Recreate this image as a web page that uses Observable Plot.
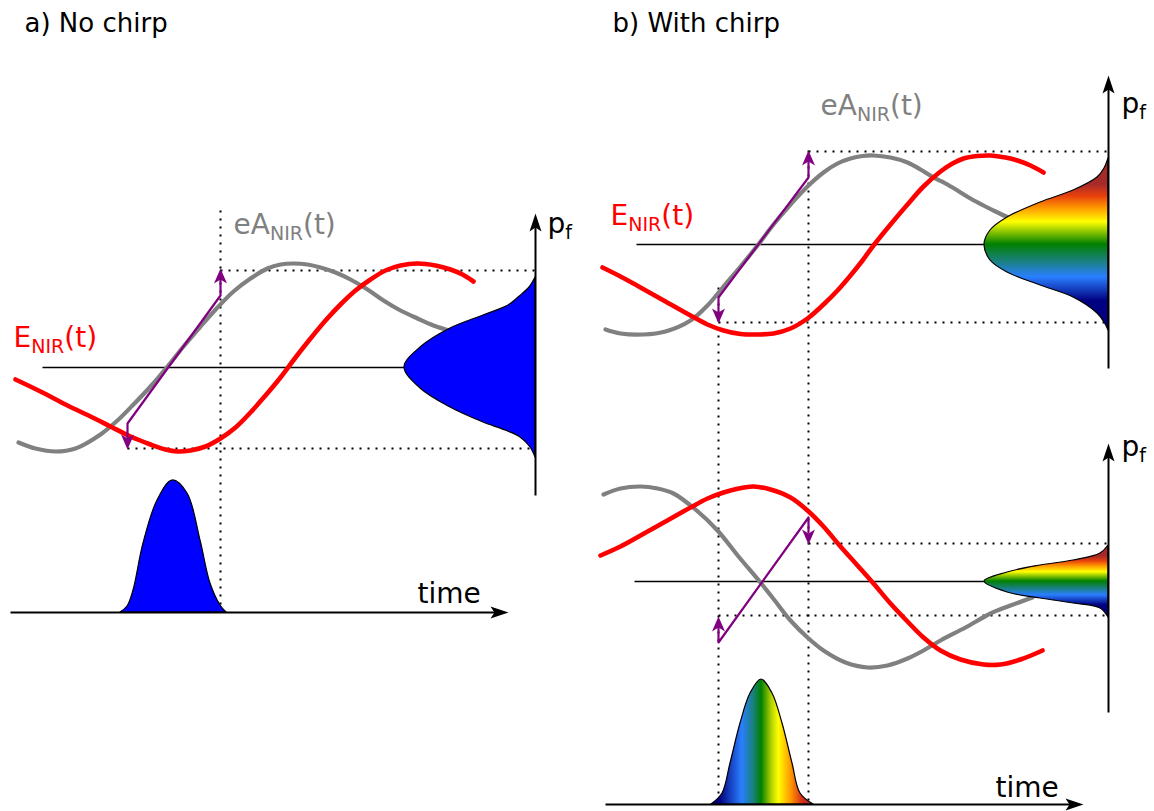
<!DOCTYPE html>
<html>
<head>
<meta charset="utf-8">
<script src="https://cdn.jsdelivr.net/npm/d3@7"></script>
<script src="https://cdn.jsdelivr.net/npm/@observablehq/plot@0.6"></script>
<style>
  body { margin: 0; background: #fff; }
  svg { display: block; }
</style>
</head>
<body>
<div id="chart"></div>
<script>
// ---------------- data (canvas pixel units, y downward) ----------------
// Panel a) No chirp
const aGrayX = [18, 35, 55, 75, 100, 117, 133, 150, 167, 183, 200, 217, 233, 250, 267, 280, 293, 307, 320, 335, 350, 367, 383, 400, 417, 433, 452];
const aGrayY = [442, 448, 451, 448, 434, 420, 404, 386, 366, 346, 326, 307, 291, 278, 268, 264, 263, 264, 267, 272, 279, 289, 300, 310, 318, 325, 331];
const aRedX  = [15, 40, 67, 90, 110, 130, 150, 165, 177, 190, 205, 220, 235, 250, 265, 280, 295, 310, 325, 340, 355, 370, 385, 400, 417, 435, 450, 462, 473];
const aRedY  = [379, 391, 405, 416, 426, 436, 444, 449, 451, 450, 446, 438, 427, 412, 395, 377, 357, 338, 320, 304, 290, 279, 270, 265, 263, 265, 269, 274, 281];
const aSpecY = [277, 287, 297, 305, 315, 328, 347, 367, 388, 407, 422, 430, 437, 447, 457];
const aSpecX = [535, 529, 518, 508, 483, 450, 420, 404, 420, 450, 483, 505, 520, 530, 535];
const aPulseX = [120, 127, 133, 143, 157, 172, 187, 200, 210, 220, 226];
const aPulseY = [612, 606, 590, 543, 500, 480, 493, 540, 583, 605, 612];
const aPurple = [[127, 438], [127, 423], [220, 295], [220, 279]];

// Panel b) With chirp, upper
const btGrayX = [605, 620, 643, 665, 690, 707, 723, 740, 757, 773, 790, 807, 823, 837, 850, 862, 873, 890, 907, 920, 933, 945, 957, 970, 983, 995, 1010];
const btGrayY = [329, 333, 334, 331, 320, 305, 286, 266, 245, 224, 204, 186, 172, 163, 158, 155.5, 155, 157, 162, 169, 177, 183, 190, 198, 205, 211, 218];
const btRedX  = [602, 620, 640, 665, 690, 707, 723, 740, 757, 773, 790, 807, 823, 837, 850, 862, 873, 890, 907, 923, 940, 952, 963, 977, 990, 1005, 1017, 1030, 1043];
const btRedY  = [267, 276, 287, 301, 315, 324, 330, 333.5, 334, 333, 328, 318, 304, 290, 275, 260, 245, 224, 204, 186, 171, 163, 158, 155.5, 155, 157, 160, 165, 172];
const btSpecY = [158, 168, 177, 190, 202, 217, 230, 244, 260, 272, 285, 297, 313, 322, 330];
const btSpecX = [1108, 1104, 1097, 1073, 1040, 1007, 990, 984, 990, 1007, 1040, 1073, 1097, 1104, 1108];
const btPurple = [[718, 312], [718, 297], [808, 177], [808, 161]];

// Panel b) With chirp, lower
const bbGrayX = [603, 620, 640, 657, 673, 695, 717, 738, 760, 775, 790, 807, 823, 845, 867, 887, 907, 923, 940, 965, 990, 1010, 1032];
const bbGrayY = [494, 488, 486, 488, 493, 509, 530, 556, 582, 601, 620, 637, 650, 662, 667, 665, 658, 650, 640, 627, 613, 605, 597];
const bbRedX  = [600, 620, 640, 665, 690, 707, 723, 738, 753, 770, 790, 807, 823, 840, 857, 873, 890, 907, 923, 940, 960, 983, 1000, 1020, 1042];
const bbRedY  = [555, 546, 535, 521, 507, 498, 492, 488, 486, 489, 497, 510, 526, 546, 565, 583, 603, 621, 637, 650, 659, 664, 664, 659, 650];
const bbSpecY = [545, 553, 560, 565, 572, 581, 592, 598, 603, 608, 617];
const bbSpecX = [1108, 1100, 1073, 1040, 1007, 984, 1007, 1040, 1073, 1100, 1108];
const bbPurple = [[718, 627], [718, 642], [808, 517], [808, 532]];
const bPulseX = [711, 722, 730, 740, 750, 761, 772, 782, 792, 800, 813];
const bPulseY = [804, 793, 763, 723, 693, 679, 693, 723, 763, 793, 804];

// guide lines
const centerLines = [
  {x1: 42, y1: 367, x2: 535, y2: 367},
  {x1: 636, y1: 244, x2: 1108, y2: 244},
  {x1: 634, y1: 581, x2: 1108, y2: 581}
];
const dottedLines = [
  {x1: 220, y1: 210, x2: 220, y2: 612},
  {x1: 220, y1: 270, x2: 535, y2: 270},
  {x1: 127, y1: 448, x2: 535, y2: 448},
  {x1: 718, y1: 287, x2: 718, y2: 800},
  {x1: 808, y1: 150, x2: 808, y2: 800},
  {x1: 808, y1: 151, x2: 1108, y2: 151},
  {x1: 718, y1: 322, x2: 1108, y2: 322},
  {x1: 808, y1: 543, x2: 1108, y2: 543},
  {x1: 718, y1: 615, x2: 1108, y2: 615}
];
const axisLines = [
  {x1: 535, y1: 495, x2: 535, y2: 226},
  {x1: 10, y1: 612, x2: 495, y2: 612},
  {x1: 1108, y1: 368, x2: 1108, y2: 88},
  {x1: 1108, y1: 712, x2: 1108, y2: 456},
  {x1: 605, y1: 804, x2: 1070, y2: 804}
];
const axisHeads = [
  {x: 535, y: 213, rot: 0}, {x: 508, y: 612, rot: 90},
  {x: 1108, y: 75, rot: 0}, {x: 1108, y: 443, rot: 0}, {x: 1083, y: 804, rot: 90}
];
const purpleHeads = [
  {x: 220, y: 268, rot: 0}, {x: 127, y: 449, rot: 180},
  {x: 808, y: 150, rot: 0}, {x: 718, y: 323, rot: 180},
  {x: 808, y: 544, rot: 180}, {x: 718, y: 616, rot: 0}
];
const labels = [
  {x: 24, y: 31, t: "a) No chirp", color: "black", size: 26},
  {x: 612, y: 31, t: "b) With chirp", color: "black", size: 26},
  {x: 13, y: 346, t: "E|NIR|(t)", color: "red", size: 28},
  {x: 233, y: 233, t: "eA|NIR|(t)", color: "#808080", size: 28},
  {x: 547, y: 232, t: "p|f|", color: "black", size: 28},
  {x: 417, y: 602, t: "time", color: "black", size: 28},
  {x: 610, y: 224, t: "E|NIR|(t)", color: "red", size: 28},
  {x: 820, y: 114, t: "eA|NIR|(t)", color: "#808080", size: 28},
  {x: 1121, y: 112, t: "p|f|", color: "black", size: 28},
  {x: 1121, y: 455, t: "p|f|", color: "black", size: 28},
  {x: 995, y: 796, t: "time", color: "black", size: 28}
];

// ---------------- helpers ----------------
const pts = (xs, ys, id) => xs.map((x, i) => ({x, y: ys[i], id}));
const poly = (arr, id) => arr.map(([x, y]) => ({x, y, id}));
const grayData = [...pts(aGrayX, aGrayY, "a"), ...pts(btGrayX, btGrayY, "bt"), ...pts(bbGrayX, bbGrayY, "bb")];
const redData = [...pts(aRedX, aRedY, "a"), ...pts(btRedX, btRedY, "bt"), ...pts(bbRedX, bbRedY, "bb")];
const purpleData = [...poly(aPurple, "a"), ...poly(btPurple, "bt"), ...poly(bbPurple, "bb")];
const specA = aSpecY.map((y, i) => ({y, x: aSpecX[i], base: 535}));
const specBt = btSpecY.map((y, i) => ({y, x: btSpecX[i], base: 1108}));
const specBb = bbSpecY.map((y, i) => ({y, x: bbSpecX[i], base: 1108}));
const pulseA = aPulseX.map((x, i) => ({x, y: aPulseY[i], base: 612}));
const pulseB = bPulseX.map((x, i) => ({x, y: bPulseY[i], base: 804}));

const axisHead = {draw(ctx) { ctx.moveTo(0, 0); ctx.lineTo(-6, 18); ctx.lineTo(0, 14); ctx.lineTo(6, 18); ctx.closePath(); }};
const purpleHead = {draw(ctx) { ctx.moveTo(0, 0); ctx.lineTo(-6.5, 15); ctx.lineTo(0, 11); ctx.lineTo(6.5, 15); ctx.closePath(); }};

const chart = Plot.plot({
  width: 1154,
  height: 811,
  margin: 0,
  x: {domain: [0, 1154], axis: null},
  y: {domain: [811, 0], axis: null},
  color: {type: "identity"},
  style: {fontFamily: "DejaVu Sans", background: "white"},
  marks: [
    Plot.link(dottedLines, {x1: "x1", y1: "y1", x2: "x2", y2: "y2", stroke: "black", strokeWidth: 2, strokeDasharray: "2,6"}),
    Plot.link(centerLines, {x1: "x1", y1: "y1", x2: "x2", y2: "y2", stroke: "black", strokeWidth: 1.3}),
    Plot.line(grayData, {x: "x", y: "y", z: "id", stroke: "#808080", strokeWidth: 4.2, curve: "catmull-rom", strokeLinecap: "round"}),
    Plot.line(redData, {x: "x", y: "y", z: "id", stroke: "red", strokeWidth: 4.6, curve: "catmull-rom", strokeLinecap: "round"}),
    Plot.areaX(specA, {y: "y", x1: "base", x2: "x", fill: "#0000ff", stroke: "black", strokeWidth: 1.2, curve: "catmull-rom"}),
    Plot.areaX(specBt, {y: "y", x1: "base", x2: "x", fill: "url(#specV)", stroke: "black", strokeWidth: 1.2, curve: "catmull-rom"}),
    Plot.areaX(specBb, {y: "y", x1: "base", x2: "x", fill: "url(#specV)", stroke: "black", strokeWidth: 1.2, curve: "catmull-rom"}),
    Plot.line(purpleData, {x: "x", y: "y", z: "id", stroke: "#800080", strokeWidth: 2.2}),
    Plot.dot(purpleHeads, {x: "x", y: "y", rotate: "rot", symbol: purpleHead, fill: "#800080", stroke: "none"}),
    Plot.areaY(pulseA, {x: "x", y1: "base", y2: "y", fill: "#0000ff", stroke: "black", strokeWidth: 1.2, curve: "catmull-rom"}),
    Plot.areaY(pulseB, {x: "x", y1: "base", y2: "y", fill: "url(#specH)", stroke: "black", strokeWidth: 1.2, curve: "catmull-rom"}),
    Plot.link(axisLines, {x1: "x1", y1: "y1", x2: "x2", y2: "y2", stroke: "black", strokeWidth: 2}),
    Plot.dot(axisHeads, {x: "x", y: "y", rotate: "rot", symbol: axisHead, fill: "black", stroke: "none"}),
    Plot.text(labels, {x: "x", y: "y", text: "t", fill: "color", fontSize: "size", textAnchor: "start", lineAnchor: "bottom"})
  ]
});

// gradients for the chirped spectra
const svg = d3.select(chart);
const defs = svg.insert("defs", ":first-child");
const gv = defs.append("linearGradient").attr("id", "specV").attr("x1", 0).attr("y1", 0).attr("x2", 0).attr("y2", 1);
[[0, "#a52a2a"], [0.15, "#a52a2a"], [0.22, "#e8400c"], [0.29, "#ff9900"], [0.37, "#ffff00"],
 [0.5, "#008000"], [0.6, "#1a8080"], [0.69, "#2a7fff"], [0.83, "#000080"], [1, "#000080"]]
  .forEach(([o, c]) => gv.append("stop").attr("offset", o).attr("stop-color", c));
const gh = defs.append("linearGradient").attr("id", "specH").attr("x1", 0).attr("y1", 0).attr("x2", 1).attr("y2", 0);
[[0, "#000080"], [0.08, "#000080"], [0.3, "#2a7fff"], [0.41, "#1a8080"], [0.49, "#008000"],
 [0.59, "#b0d000"], [0.66, "#ffff00"], [0.78, "#ff9900"], [0.89, "#d83018"], [0.97, "#a52a2a"], [1, "#a52a2a"]]
  .forEach(([o, c]) => gh.append("stop").attr("offset", o).attr("stop-color", c));

// subscripts: "main|sub|tail"
svg.selectAll('g[aria-label="text"] text').each(function () {
  const raw = this.textContent;
  const fs = parseFloat(this.getAttribute("font-size")) || 28;
  this.removeAttribute("dy");
  if (!raw.includes("|")) return;
  const [main, sub, tail] = raw.split("|");
  const t = d3.select(this);
  t.text(null);
  t.append("tspan").text(main);
  t.append("tspan").attr("font-size", fs * 0.68).attr("dy", fs * 0.22).text(sub);
  if (tail) t.append("tspan").attr("font-size", fs).attr("dy", -fs * 0.22).text(tail);
});

document.getElementById("chart").appendChild(chart);
</script>
</body>
</html>
